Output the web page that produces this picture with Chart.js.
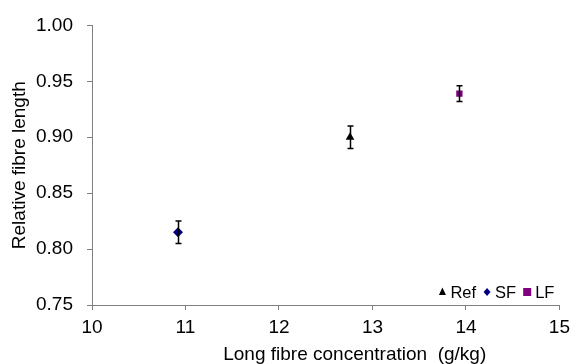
<!DOCTYPE html>
<html>
<head>
<meta charset="utf-8">
<script src="https://cdn.jsdelivr.net/npm/chart.js@4/dist/chart.umd.min.js"></script>
<style>
html,body{margin:0;padding:0;background:#fff;}
#wrap{width:576px;height:364px;}
</style>
</head>
<body>
<div id="wrap"><canvas id="c" width="576" height="364"></canvas></div>
<script>
const seriesNames = ["Ref", "SF", "LF"];
const xValues = [12.76, 10.92, 13.93];
const yValues = [0.900, 0.815, 0.939];
const yErrors = [0.010, 0.010, 0.007];
const colors = ["#000000", "#000080", "#800080"];
const markers = ["triangle", "rectRot", "rect"];
const xTicks = [10, 11, 12, 13, 14, 15];
const yTicks = [0.75, 0.80, 0.85, 0.90, 0.95, 1.00];
const xTitle = "Long fibre concentration  (g/kg)";
const yTitle = "Relative fibre length";

const FONT = "'Liberation Sans', Arial, sans-serif";

const datasets = seriesNames.map((n, i) => ({
  label: n,
  data: [{x: xValues[i], y: yValues[i]}],
  backgroundColor: colors[i],
  borderColor: colors[i],
  pointStyle: markers[i],
  pointRadius: markers[i] === 'rect' ? 4.5 : 5,
  borderWidth: 0,
  errorBar: yErrors[i]
}));

const errorBarPlugin = {
  id: 'errorBars',
  afterDatasetsDraw(chart) {
    const ctx = chart.ctx, xs = chart.scales.x, ys = chart.scales.y;
    ctx.save();
    ctx.strokeStyle = '#000';
    ctx.lineWidth = 1.5;
    chart.data.datasets.forEach(ds => {
      ds.data.forEach(p => {
        const px = Math.round(xs.getPixelForValue(p.x)) + 0.5;
        const top = ys.getPixelForValue(p.y + ds.errorBar);
        const bot = ys.getPixelForValue(p.y - ds.errorBar);
        ctx.beginPath();
        ctx.moveTo(px, top); ctx.lineTo(px, bot);
        ctx.moveTo(px - 3, top); ctx.lineTo(px + 3, top);
        ctx.moveTo(px - 3, bot); ctx.lineTo(px + 3, bot);
        ctx.stroke();
      });
    });
    ctx.restore();
  }
};

const xTitlePlugin = {
  id: 'xTitle',
  afterDraw(chart) {
    const ctx = chart.ctx, area = chart.chartArea;
    ctx.save();
    ctx.font = "19px " + FONT;
    ctx.fillStyle = '#000';
    ctx.textAlign = 'center';
    ctx.textBaseline = 'middle';
    ctx.fillText(xTitle, (area.left + area.right) / 2 + 29, area.bottom + 50);
    ctx.restore();
  }
};

const legendPlugin = {
  id: 'insideLegend',
  afterDraw(chart) {
    const ctx = chart.ctx, area = chart.chartArea;
    ctx.save();
    ctx.font = "16.5px " + FONT;
    ctx.textBaseline = 'middle';
    const y = area.bottom - 13;
    const markerW = 8, gapM = 4, gapItem = 7;
    const items = chart.data.datasets.map(ds => ({ds, w: ctx.measureText(ds.label).width}));
    let total = 0;
    items.forEach((it, i) => { total += markerW + gapM + it.w + (i < items.length - 1 ? gapItem : 0); });
    let x = area.right - 5 - total;
    items.forEach(it => {
      const cx = x + markerW / 2;
      ctx.fillStyle = it.ds.backgroundColor;
      ctx.beginPath();
      if (it.ds.pointStyle === 'triangle') {
        ctx.moveTo(cx, y - 4.5); ctx.lineTo(cx + 3.5, y + 3); ctx.lineTo(cx - 3.5, y + 3);
      } else if (it.ds.pointStyle === 'rectRot') {
        ctx.moveTo(cx, y - 4); ctx.lineTo(cx + 3.5, y); ctx.lineTo(cx, y + 4); ctx.lineTo(cx - 3.5, y);
      } else {
        ctx.rect(cx - 4, y - 4, 8, 8);
      }
      ctx.closePath();
      ctx.fill();
      x += markerW + gapM;
      ctx.fillStyle = '#000';
      ctx.fillText(it.ds.label, x, y + 1);
      x += it.w + gapItem;
    });
    ctx.restore();
  }
};

new Chart(document.getElementById('c'), {
  type: 'scatter',
  data: { datasets },
  options: {
    responsive: false,
    animation: false,
    layout: { padding: { left: 0, right: 14, top: 25, bottom: 0 } },
    plugins: { legend: { display: false }, tooltip: { enabled: false } },
    scales: {
      x: {
        type: 'linear', min: xTicks[0], max: xTicks[xTicks.length - 1],
        afterBuildTicks(s) { s.ticks = xTicks.map(v => ({value: v})); },
        afterFit(s) { s.height = 59; },
        ticks: { color: '#000', font: { family: FONT, size: 19 }, padding: 6, maxRotation: 0,
                 callback: v => String(v) },
        grid: { drawOnChartArea: false, drawTicks: true, tickLength: 5, color: '#808080', lineWidth: 1 },
        border: { display: true, color: '#808080', width: 1 },
        title: { display: false }
      },
      y: {
        type: 'linear', min: yTicks[0], max: yTicks[yTicks.length - 1],
        afterBuildTicks(s) { s.ticks = yTicks.map(v => ({value: v})); },
        afterFit(s) { s.width = 92; },
        ticks: { color: '#000', font: { family: FONT, size: 19 }, padding: 14,
                 callback: v => Number(v).toFixed(2) },
        grid: { drawOnChartArea: false, drawTicks: true, tickLength: 5, color: '#808080', lineWidth: 1 },
        border: { display: true, color: '#808080', width: 1 },
        title: { display: true, text: yTitle, color: '#000', font: { family: FONT, size: 19 }, padding: { top: 8, bottom: 0 } }
      }
    }
  },
  plugins: [errorBarPlugin, legendPlugin, xTitlePlugin]
});
</script>
</body>
</html>
